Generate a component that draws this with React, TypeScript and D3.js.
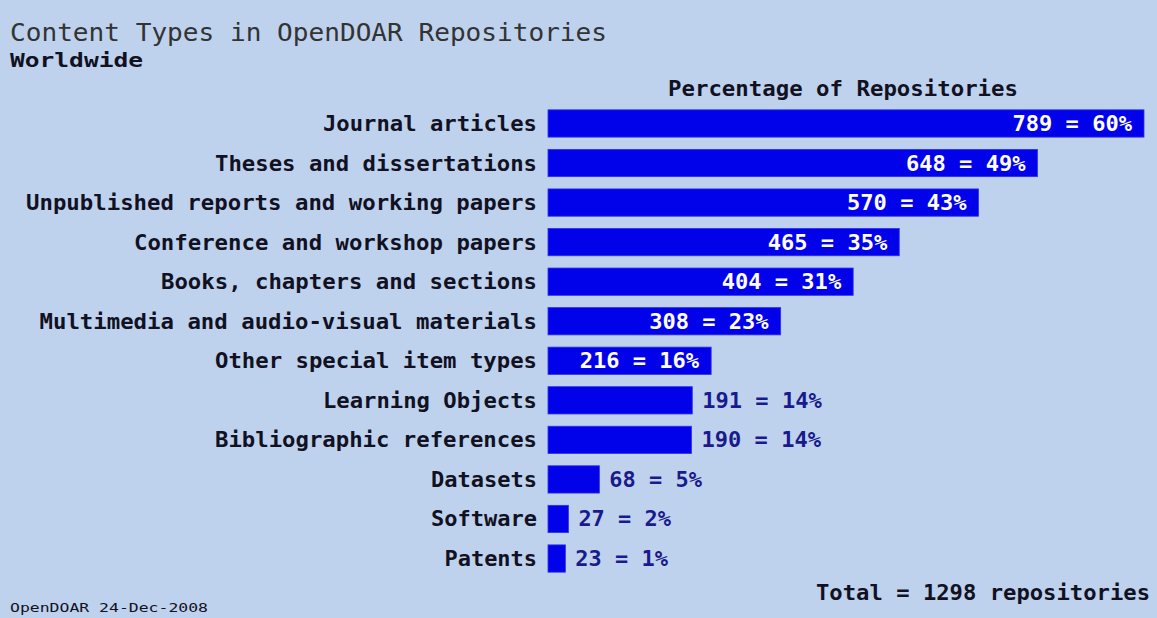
import React from "react";
import * as d3 from "d3";

const categories = [
  "Journal articles",
  "Theses and dissertations",
  "Unpublished reports and working papers",
  "Conference and workshop papers",
  "Books, chapters and sections",
  "Multimedia and audio-visual materials",
  "Other special item types",
  "Learning Objects",
  "Bibliographic references",
  "Datasets",
  "Software",
  "Patents",
];
const counts = [789, 648, 570, 465, 404, 308, 216, 191, 190, 68, 27, 23];
const percents = [60, 49, 43, 35, 31, 23, 16, 14, 14, 5, 2, 1];
const total = 1298;

const W = 1157;
const H = 618;
const BG = "#BED2EE";
const BAR = "#0202EA";
const DARK = "#111122";
const NAVY = "#1A1A8C";
const MONO = "'DejaVu Sans Mono', 'Liberation Mono', monospace";
const CW = 13.5; // char width

export default function App() {
  const x = d3.scaleLinear().domain([0, 789]).range([548, 1144]);
  const y = d3
    .scaleBand<string>()
    .domain(categories)
    .range([103.5, 578.5])
    .paddingInner(0.31)
    .paddingOuter(0.16);
  const bh = y.bandwidth();

  return (
    <svg
      width={W}
      height={H}
      style={{ position: "absolute", left: 0, top: 0, display: "block" }}
      fontFamily={MONO}
    >
      <rect x={0} y={0} width={W} height={H} fill={BG} />
      <text x={10} y={41} fontSize={25} fill="#333" textLength={597} lengthAdjust="spacingAndGlyphs">
        Content Types in OpenDOAR Repositories
      </text>
      <text x={10} y={67} fontSize={20} fontWeight="bold" fill={DARK} textLength={133} lengthAdjust="spacingAndGlyphs">
        Worldwide
      </text>
      <text x={843} y={96} fontSize={21} fontWeight="bold" fill={DARK} textAnchor="middle" textLength={350} lengthAdjust="spacingAndGlyphs">
        Percentage of Repositories
      </text>
      {categories.map((c, i) => {
        const yy = y(c)!;
        const cy = yy + bh / 2;
        const x1 = x(counts[i]);
        const label = `${counts[i]} = ${percents[i]}%`;
        const inside = counts[i] >= 200;
        return (
          <g key={c}>
            <text
              x={537}
              y={cy + 7.5}
              fontSize={21}
              fontWeight="bold"
              fill={DARK}
              textAnchor="end"
              textLength={c.length * CW - 2}
              lengthAdjust="spacingAndGlyphs"
            >
              {c}
            </text>
            <rect x={x(0)} y={yy} width={x1 - x(0)} height={bh} fill={BAR} stroke="#3030F0" strokeWidth={0.8} />
            <text
              x={inside ? x1 - 12 : x1 + 10}
              y={cy + 7.5}
              fontSize={21}
              fontWeight="bold"
              fill={inside ? "#fff" : NAVY}
              textAnchor={inside ? "end" : "start"}
              textLength={label.length * CW - 2}
              lengthAdjust="spacingAndGlyphs"
            >
              {label}
            </text>
          </g>
        );
      })}
      <text x={1150} y={600} fontSize={21} fontWeight="bold" fill={DARK} textAnchor="end" textLength={334} lengthAdjust="spacingAndGlyphs">
        {`Total = ${total} repositories`}
      </text>
      <text x={10} y={612} fontSize={12} fill={DARK} textLength={198} lengthAdjust="spacingAndGlyphs">
        OpenDOAR 24-Dec-2008
      </text>
    </svg>
  );
}
